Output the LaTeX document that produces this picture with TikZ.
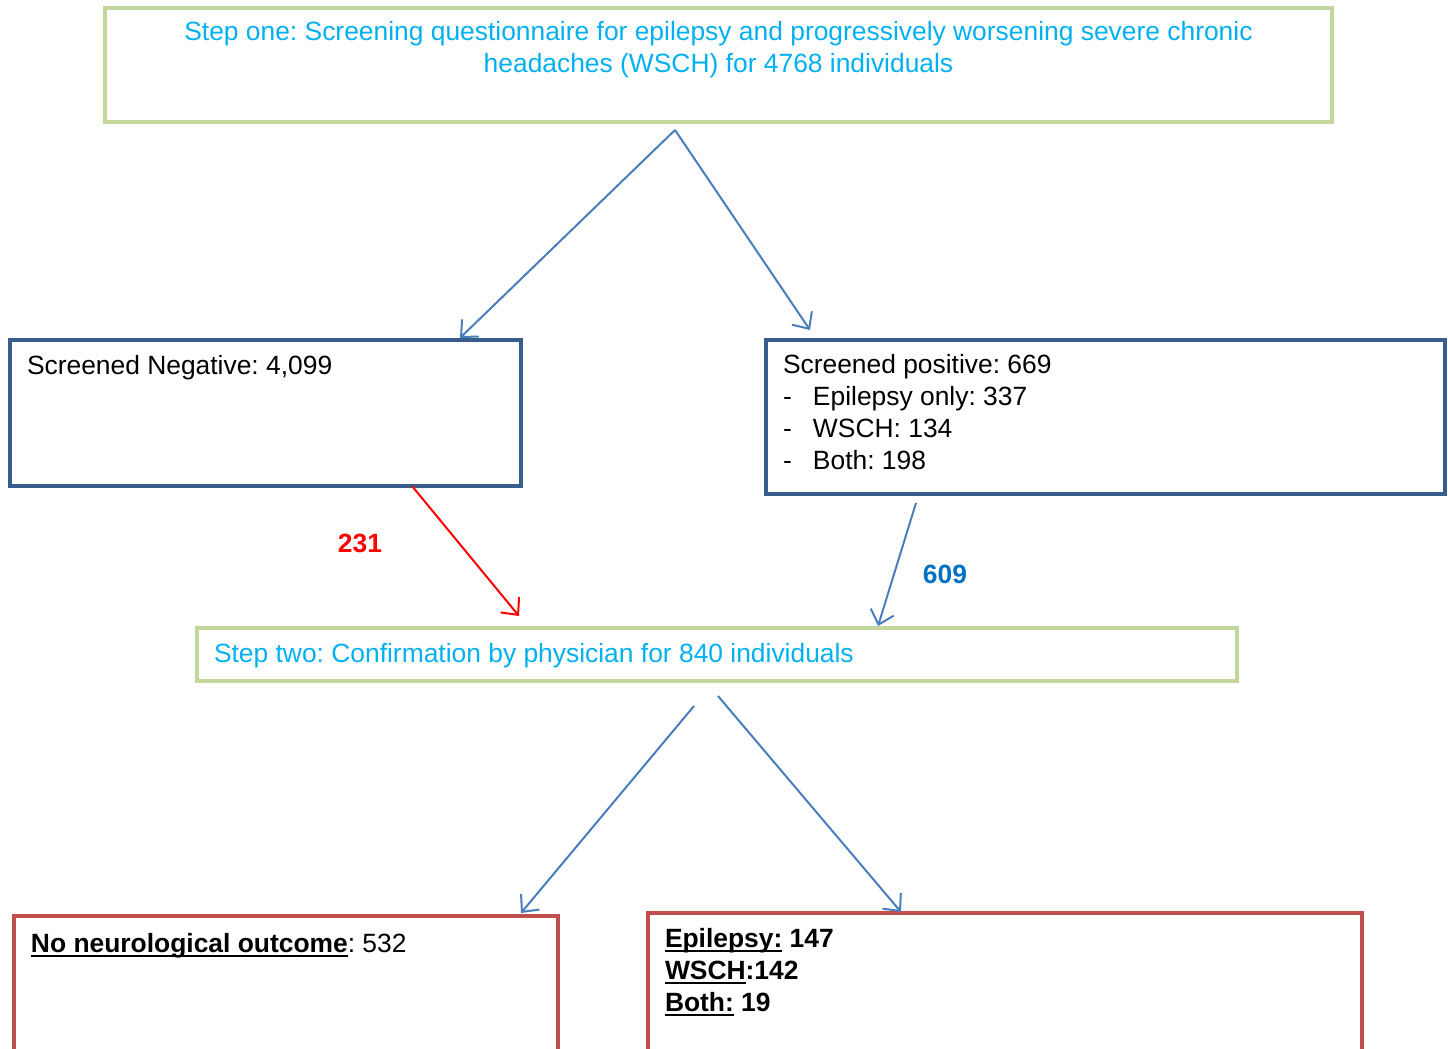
\documentclass[tikz,border=0pt]{standalone}
\usepackage{fontspec}
\setmainfont{Liberation Sans}
\usetikzlibrary{arrows.meta}
\frenchspacing
\definecolor{gborder}{RGB}{195,214,155}
\definecolor{bborder}{RGB}{56,93,138}
\definecolor{rborder}{RGB}{192,80,77}
\definecolor{arrblue}{RGB}{74,126,187}
\definecolor{cyantext}{RGB}{0,176,240}
\definecolor{numblue}{RGB}{0,112,192}
\newcommand\myul[1]{\leavevmode\setbox0\hbox{#1}\rlap{\rule[-2.4pt]{\wd0}{0.9pt}}\box0\relax}
\tikzset{
  box/.style={draw, line width=2pt, inner sep=0pt, outer sep=0pt, anchor=north west, fill=none},
  gbox/.style={box, draw=gborder},
  bbox/.style={box, draw=bborder},
  rbox/.style={box, draw=rborder},
  txt/.style={inner sep=0pt, outer sep=0pt, font=\fontsize{13.2pt}{16pt}\selectfont},
  conn/.style={draw=arrblue, line width=1pt, -{Straight Barb[length=6.5pt,width=12pt,line width=1pt]}},
  redconn/.style={conn, draw=red},
}
\begin{document}
\begin{tikzpicture}[x=0.5pt,y=-0.5pt]
\clip (0,0) rectangle (1448,1049);
% boxes
\node[gbox, minimum width=613.5pt, minimum height=57pt] (top) at (105,8) {};
\node[bbox, minimum width=255.5pt, minimum height=73pt] (neg) at (10,340) {};
\node[bbox, minimum width=339.5pt, minimum height=77pt] (pos) at (766,340) {};
\node[gbox, minimum width=520pt, minimum height=26.5pt] (two) at (197,628) {};
\node[rbox, minimum width=272pt, minimum height=90pt] (none) at (14,916) {};
\node[rbox, minimum width=357pt, minimum height=90pt] (out) at (648,913) {};
% texts
\node[txt, text=cyantext, align=center, anchor=north] (toptext) at (718.5,21)
  {Step one: Screening questionnaire for epilepsy and progressively worsening severe chronic\\
   headaches (WSCH) for 4768 individuals};
\node[txt, anchor=base west] (negtext) at (27,374) {Screened Negative: 4,099};
\node[txt, anchor=north west, align=left] (postext) at (783,354)
  {Screened positive: 669\\
   \makebox[15pt][l]{-}Epilepsy only: 337\\
   \makebox[15pt][l]{-}WSCH: 134\\
   \makebox[15pt][l]{-}Both: 198};
\node[txt, text=cyantext, anchor=base west] (twotext) at (214,662) {Step two: Confirmation by physician for 840 individuals};
\node[txt, anchor=base west] (nonetext) at (31,952) {\textbf{\myul{No neurological outcome}}: 532};
\node[txt, anchor=north west, align=left, font=\fontsize{13.2pt}{16pt}\selectfont\bfseries] (outtext) at (665,928)
  {\myul{Epilepsy:} 147\\
   \myul{WSCH}:142\\
   \myul{Both:} 19};
\node[txt, text=red, font=\fontsize{13.2pt}{16pt}\selectfont\bfseries] (n231) at (360,543) {231};
\node[txt, text=numblue, font=\fontsize{13.2pt}{16pt}\selectfont\bfseries] (n609) at (945,574) {609};
% connector points
\coordinate (s1) at (675,130);
\coordinate (t1) at (460,338);
\coordinate (t2) at (810,330);
\coordinate (s3) at (412,486);
\coordinate (t3) at (519,616);
\coordinate (s4) at (916,503);
\coordinate (t4) at (878,626);
\coordinate (s5) at (694,706);
\coordinate (t5) at (521,913);
\coordinate (s6) at (718,696);
\coordinate (t6) at (901,912);
\draw[conn] (s1) -- (t1);
\draw[conn] (s1) -- (t2);
\draw[redconn] (s3) -- (t3);
\draw[conn] (s4) -- (t4);
\draw[conn] (s5) -- (t5);
\draw[conn] (s6) -- (t6);
\end{tikzpicture}
\end{document}
